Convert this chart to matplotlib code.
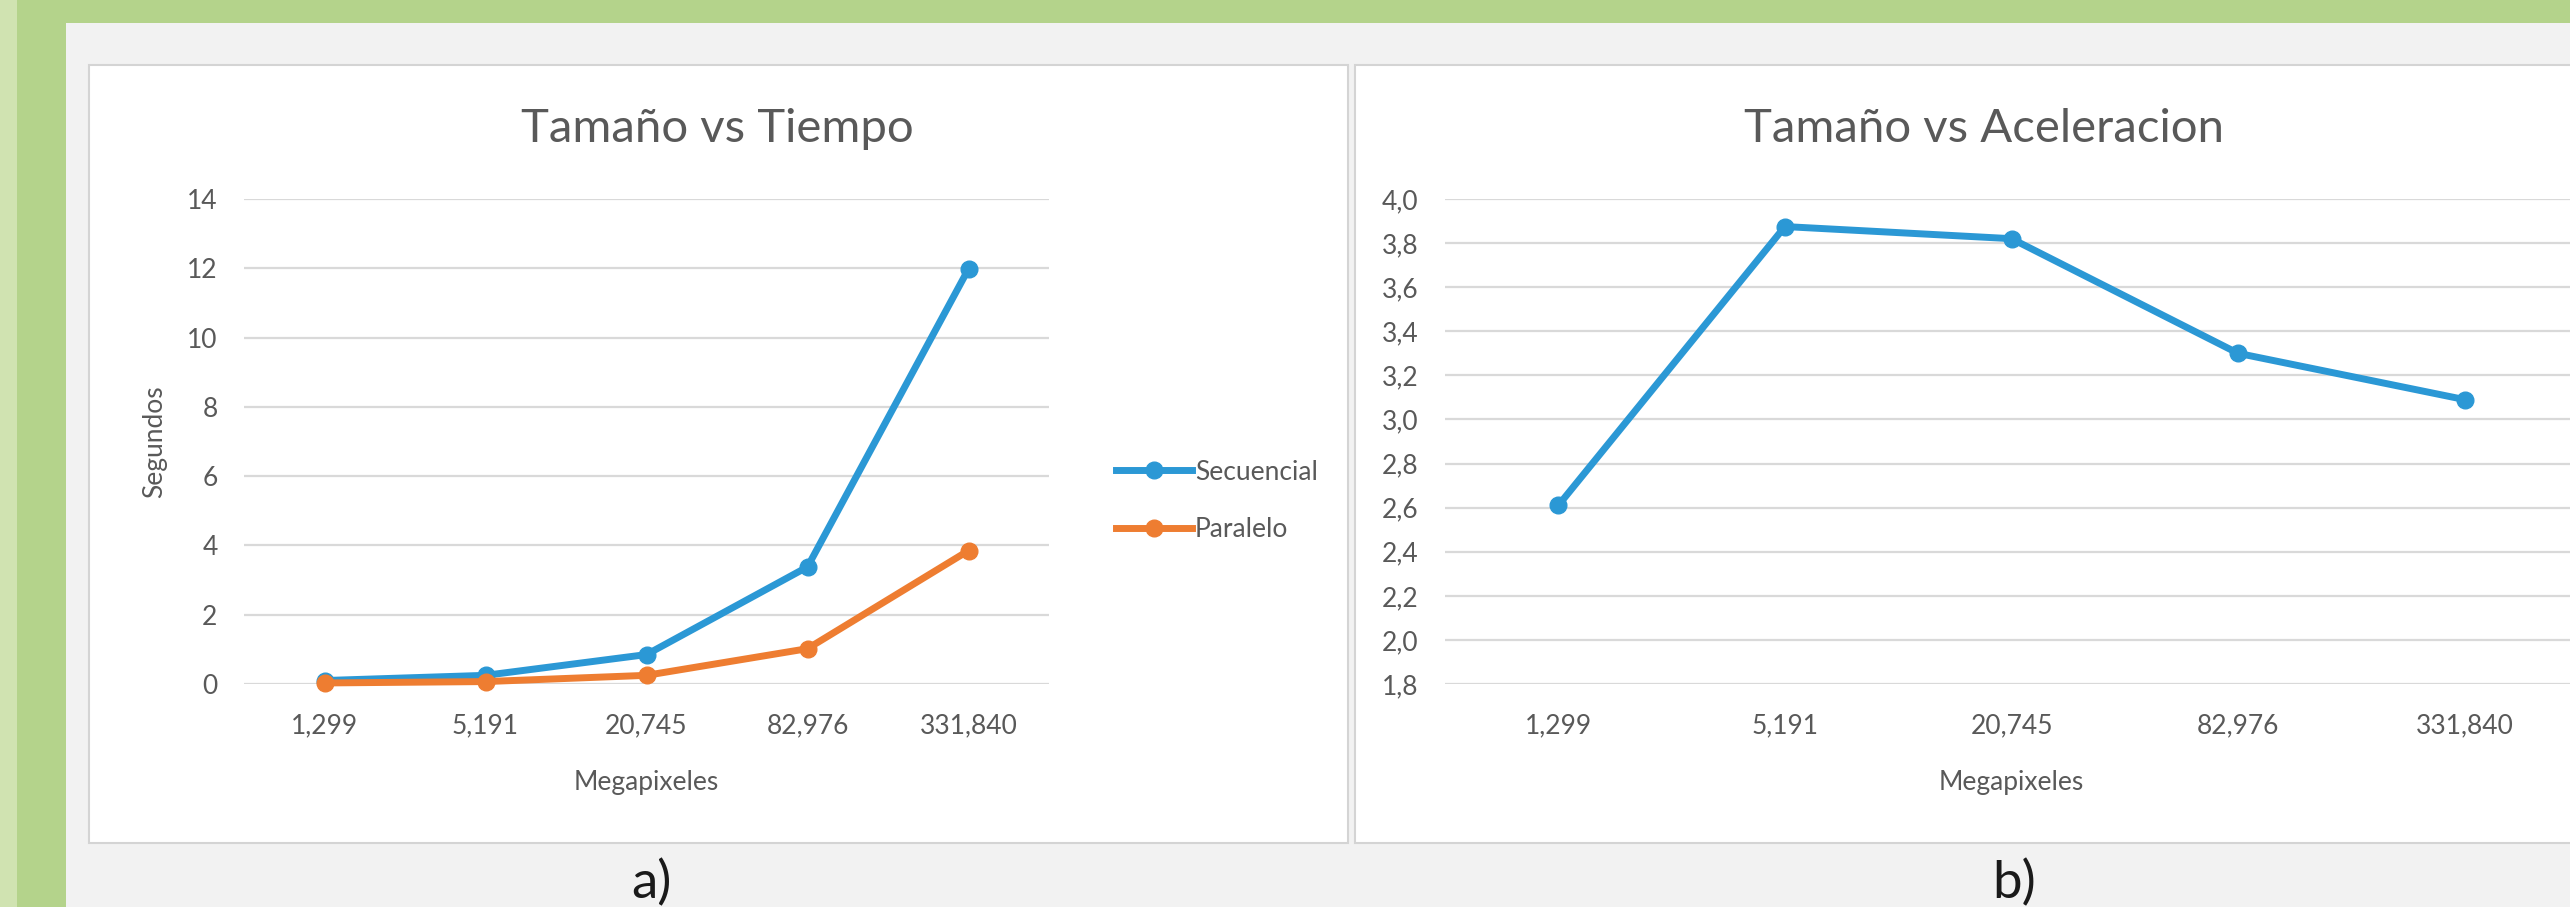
import matplotlib
matplotlib.use('Agg')
import matplotlib.pyplot as plt
from matplotlib.patches import Rectangle

# data
categorias = ['1,299', '5,191', '20,745', '82,976', '331,840']
secuencial = [0.10, 0.25, 0.85, 3.38, 11.98]
paralelo = [0.03, 0.07, 0.25, 1.02, 3.85]
aceleracion = [2.61, 3.875, 3.82, 3.30, 3.09]
ticks_tiempo = [0, 2, 4, 6, 8, 10, 12, 14]
ticks_acel = [1.8, 2.0, 2.2, 2.4, 2.6, 2.8, 3.0, 3.2, 3.4, 3.6, 3.8, 4.0]

W, H = 2570, 907
azul = '#2b98d5'
naranja = '#ee7d31'
gris_txt = '#595959'
gris_grid = '#d9d9d9'

plt.rcParams['font.family'] = ['Lato', 'DejaVu Sans']

fig = plt.figure(figsize=(W / 100, H / 100), dpi=100)
fig.patch.set_facecolor('#f2f2f2')

def fx(px):
    return px / W

def fy(py):
    return 1 - py / H

def caja(x0, y0, x1, y1, **kw):
    fig.patches.append(Rectangle((fx(x0), fy(y1)), fx(x1 - x0), (y1 - y0) / H,
                                 transform=fig.transFigure, zorder=-5, **kw))

# green frame on the left and top
caja(0, 0, 17, H, facecolor='#d0e3b1', edgecolor='none')
caja(17, 0, 66, H, facecolor='#b4d38b', edgecolor='none')
caja(17, 0, W + 10, 23, facecolor='#b4d38b', edgecolor='none')

# white chart panels
caja(89, 65, 1348, 843, facecolor='white', edgecolor='#d4d4d4', lw=1.5)
caja(1355, 65, 2620, 843, facecolor='white', edgecolor='#d4d4d4', lw=1.5)

x = range(len(categorias))


def estilo(ax, ticks, etiquetas):
    ax.set_facecolor('none')
    for s in ax.spines.values():
        s.set_visible(False)
    ax.set_xticks(list(x))
    ax.set_xticklabels(categorias)
    ax.set_yticks(ticks)
    ax.set_yticklabels(etiquetas)
    ax.set_xlim(-0.5, len(categorias) - 0.5)
    ax.set_ylim(ticks[0], ticks[-1])
    ax.tick_params(length=0, labelsize=19, labelcolor=gris_txt)
    ax.tick_params(axis='y', pad=19)
    ax.tick_params(axis='x', pad=21)
    ax.grid(axis='y', color=gris_grid, lw=1.6)
    ax.set_axisbelow(True)
    ax.set_xlabel('Megapixeles', fontsize=19, color=gris_txt)
    ax.xaxis.set_label_coords(0.5, -0.177)


# a) tamaño vs tiempo
ax1 = fig.add_axes([fx(244), fy(684), fx(1049 - 244), (684 - 199) / H])
estilo(ax1, ticks_tiempo, [str(t) for t in ticks_tiempo])
ax1.plot(x, secuencial, color=azul, lw=5, marker='o', ms=12, label='Secuencial',
         clip_on=False, zorder=3)
ax1.plot(x, paralelo, color=naranja, lw=5, marker='o', ms=12, label='Paralelo',
         clip_on=False, zorder=4)
ax1.set_ylabel('Segundos', fontsize=19, color=gris_txt)
ax1.yaxis.set_label_coords(-0.096, 0.5)
ax1.legend(loc='center left', bbox_to_anchor=(fx(1092), fy(501)),
           bbox_transform=fig.transFigure, frameon=False, fontsize=19,
           handlelength=2.9, handletextpad=0.1, labelspacing=1.25,
           labelcolor=gris_txt)

# b) tamaño vs aceleracion
ax2 = fig.add_axes([fx(1445), fy(684), fx(2578 - 1445), (684 - 199) / H])
estilo(ax2, ticks_acel, [f'{t:.1f}'.replace('.', ',') for t in ticks_acel])
ax2.plot(x, aceleracion, color=azul, lw=5, marker='o', ms=12, zorder=3)

# titles
fig.text(fx(717), fy(142), 'Tamaño vs Tiempo', fontsize=34, color=gris_txt,
         ha='center', va='baseline')
fig.text(fx(1984), fy(142), 'Tamaño vs Aceleracion', fontsize=34, color=gris_txt,
         ha='center', va='baseline')

# subfigure captions
fig.text(fx(651), fy(898), 'a)', fontsize=38, color='#1a1a1a', ha='center',
         va='baseline')
fig.text(fx(2014), fy(898), 'b)', fontsize=38, color='#1a1a1a', ha='center',
         va='baseline')

fig.savefig('out.png', dpi=100, facecolor=fig.get_facecolor())
